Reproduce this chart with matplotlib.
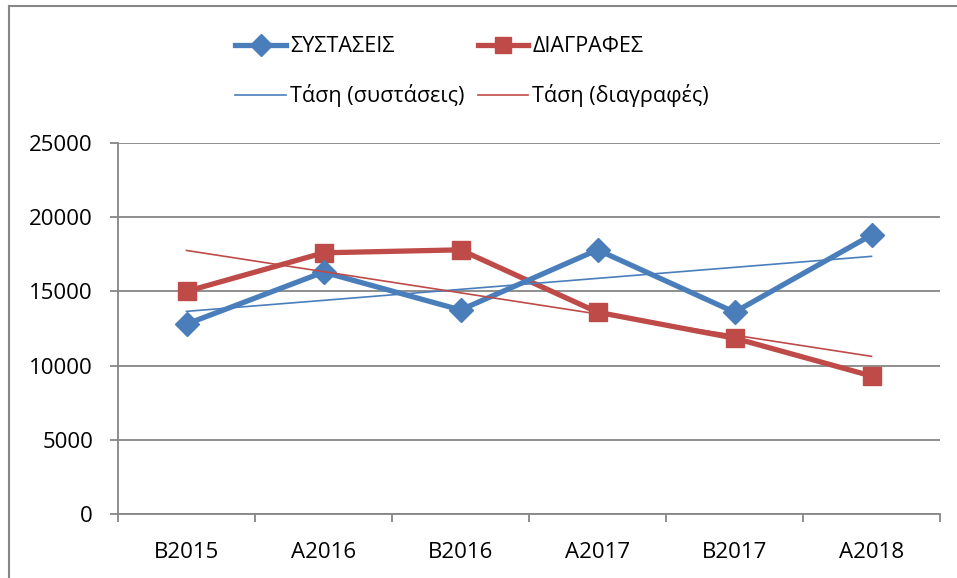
import numpy as np
import matplotlib.pyplot as plt
from matplotlib.lines import Line2D

# data
periods = ['B2015', 'A2016', 'B2016', 'A2017', 'B2017', 'A2018']
systaseis = [12800, 16300, 13750, 17800, 13600, 18800]
diagrafes = [15000, 17600, 17800, 13600, 11850, 9300]
yticks = [0, 5000, 10000, 15000, 20000, 25000]

blue = '#4A7EBB'
red = '#BE4B48'
grid_c = '#868686'

plt.rcParams['font.family'] = ['Open Sans', 'DejaVu Sans']

fig = plt.figure(figsize=(9.57, 5.78), dpi=100)
ax = fig.add_axes([118 / 957, 1 - 514 / 578, 822 / 957, 371 / 578])

x = np.arange(len(periods))

# linear trend lines (least squares, like Excel's trendline)
tb = np.polyval(np.polyfit(x, systaseis, 1), x)
tr = np.polyval(np.polyfit(x, diagrafes, 1), x)

l1, = ax.plot(x, systaseis, color=blue, lw=3.8, marker='D', ms=12,
              label='ΣΥΣΤΑΣΕΙΣ', zorder=4)
l2, = ax.plot(x, diagrafes, color=red, lw=3.8, marker='s', ms=13,
              label='ΔΙΑΓΡΑΦΕΣ', zorder=3)
l3, = ax.plot(x, tb, color=blue, lw=1.2, label='Τάση (συστάσεις)', zorder=5)
l4, = ax.plot(x, tr, color=red, lw=1.2, label='Τάση (διαγραφές)', zorder=5)

ax.set_xlim(-0.5, len(periods) - 0.5)
ax.set_ylim(0, 25000)
ax.set_yticks(yticks)
ax.set_yticklabels([str(v) for v in yticks])
ax.yaxis.grid(True, color=grid_c, lw=1.3)
ax.set_axisbelow(True)

ax.set_xticks(x)
ax.set_xticklabels(periods)
ax.set_xticks(np.arange(-0.5, len(periods)), minor=True)
ax.tick_params(axis='x', which='major', length=0, pad=20, labelsize=16)
ax.tick_params(axis='x', which='minor', length=6, width=1.3, color=grid_c)
ax.tick_params(axis='y', length=6, width=1.3, color=grid_c, pad=12,
               labelsize=16)

for s in ['top', 'right']:
    ax.spines[s].set_visible(False)
for s in ['left', 'bottom']:
    ax.spines[s].set_color(grid_c)
    ax.spines[s].set_linewidth(1.3)

fig.legend(handles=[l1, l3, l2, l4], loc='upper left',
           bbox_to_anchor=(216 / 957, 1 - 17 / 578), ncol=2, frameon=False,
           fontsize=15.5, handlelength=2.35, handletextpad=0.2,
           columnspacing=0.6, labelspacing=1.25, markerscale=0.9)

# outer chart frame (left and top edges visible)
fig.add_artist(Line2D([9 / 957, 9 / 957], [0, 1 - 6 / 578],
                      transform=fig.transFigure, color=grid_c, lw=1.5))
fig.add_artist(Line2D([9 / 957, 1], [1 - 6 / 578, 1 - 6 / 578],
                      transform=fig.transFigure, color=grid_c, lw=1.5))

fig.savefig('out.png', dpi=100)
